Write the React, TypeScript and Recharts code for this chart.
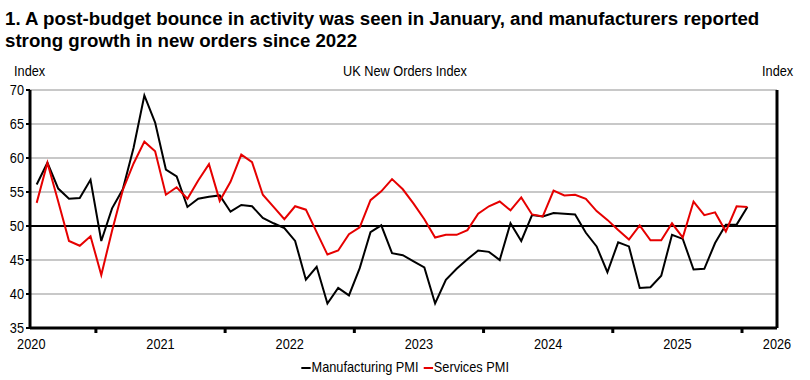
import { LineChart, Line, XAxis, YAxis, CartesianGrid, ReferenceLine } from "recharts";

const RED = "#e60000";
const FONT = "'Liberation Sans', Arial, sans-serif";
const SQUEEZE = 0.85; // the original uses a narrow face

// monthly values, Jan 2020 onwards
const manufacturing = [
  56.1, 59.3, 55.5, 54.0, 54.1, 56.8, 47.8, 52.6, 55.4, 61.5, 69.2, 65.2,
  58.3, 57.3, 52.8, 54.0, 54.3, 54.5, 52.1, 53.1, 52.9, 51.2, 50.4, 49.7,
  47.8, 42.1, 44.0, 38.6, 40.9, 39.8, 43.8, 49.1, 50.1, 46.0, 45.7, 44.8,
  43.9, 38.6, 42.1, 43.7, 45.1, 46.4, 46.2, 45.0, 50.4, 47.8, 51.6, 51.4,
  51.9, 51.8, 51.7, 49.0, 47.0, 43.2, 47.6, 47.0, 40.9, 41.0, 42.7, 48.7,
  48.1, 43.6, 43.7, 47.5, 50.2, 50.2, 52.8,
];
const services = [
  53.4, 59.3, 53.6, 47.8, 47.1, 48.5, 42.8, 49.3, 55.3, 59.2, 62.4, 61.0,
  54.6, 55.7, 54.0, 56.7, 59.1, 53.7, 56.5, 60.5, 59.4, 54.6, 52.8, 51.0,
  52.9, 52.4, 49.1, 45.8, 46.4, 48.8, 49.8, 53.8, 55.1, 56.9, 55.4, 53.3,
  51.0, 48.3, 48.7, 48.7, 49.4, 51.8, 52.9, 53.6, 52.3, 54.2, 51.7, 51.4,
  55.2, 54.5, 54.6, 54.0, 52.2, 50.9, 49.4, 48.0, 50.1, 47.9, 47.9, 50.4,
  48.3, 53.6, 51.6, 52.0, 49.2, 52.9, 52.8,
];
const years = ["2020", "2021", "2022", "2023", "2024", "2025", "2026"];
const yTicks = [35, 40, 45, 50, 55, 60, 65, 70];

const X_MIN = -0.62;
const X_MAX = 68.75;

const data = manufacturing.map((v, i) => ({ m: i, mfg: v, svc: services[i] }));

// year labels sit at the year boundary, small tick marks at mid-year
const labelPos = years.map((_, i) => (i < years.length - 1 ? i * 12 - 0.5 : X_MAX));
const markPos = years.slice(0, -1).map((_, i) => i * 12 + 5.5);

function XTick(props: any) {
  const { x, y, payload } = props;
  const li = labelPos.indexOf(payload.value);
  if (li >= 0) {
    return (
      <text transform={`translate(${x},${y + 21}) scale(${SQUEEZE},1)`} textAnchor="middle" fontSize={15} fill="#000" fontFamily={FONT}>
        {years[li]}
      </text>
    );
  }
  return <line x1={x} x2={x} y1={y} y2={y + 5} stroke="#000" strokeWidth={3} />;
}

function YTick(props: any) {
  const { x, y, payload, textAnchor } = props;
  return (
    <text transform={`translate(${x},${y}) scale(${SQUEEZE},1)`} dy="0.36em" textAnchor={textAnchor} fontSize={15} fill="#000" fontFamily={FONT}>
      {payload.value}
    </text>
  );
}

function Narrow({ children, origin = "left" }: { children: any; origin?: string }) {
  return (
    <span style={{ display: "inline-block", transform: `scaleX(${SQUEEZE})`, transformOrigin: origin, whiteSpace: "nowrap" }}>
      {children}
    </span>
  );
}

export default function App() {
  return (
    <div style={{ position: "absolute", left: 0, top: 0, width: 810, height: 380, background: "#fff", fontFamily: FONT, color: "#000" }}>
      <div style={{ position: "absolute", left: 5, top: 8, fontWeight: 700, fontSize: 18.7, lineHeight: "22px", whiteSpace: "nowrap" }}>
        1. A post-budget bounce in activity was seen in January, and manufacturers reported<br />
        strong growth in new orders since 2022
      </div>
      <div style={{ position: "absolute", left: 14, top: 62, fontSize: 15 }}>
        <Narrow>Index</Narrow>
      </div>
      <div style={{ position: "absolute", left: 0, width: 810, top: 62, fontSize: 15, textAlign: "center" }}>
        <Narrow origin="center">UK New Orders Index</Narrow>
      </div>
      <div style={{ position: "absolute", left: 762, top: 62, fontSize: 15 }}>
        <Narrow>Index</Narrow>
      </div>

      <div style={{ position: "absolute", left: 0, top: 0 }}>
        <LineChart width={810} height={380} data={data} margin={{ top: 90, right: 0, left: 0, bottom: 0 }}>
          <CartesianGrid vertical={false} stroke="#c8c8c8" strokeWidth={2} />
          <XAxis
            dataKey="m"
            type="number"
            domain={[X_MIN, X_MAX]}
            ticks={[...labelPos, ...markPos]}
            interval={0}
            height={52}
            tickSize={0}
            tickMargin={0}
            tickLine={false}
            tick={<XTick />}
            axisLine={{ stroke: "#000", strokeWidth: 3 }}
          />
          <YAxis
            domain={[35, 70]}
            ticks={yTicks}
            interval={0}
            width={30}
            tickSize={4}
            tickLine={{ stroke: "#000", strokeWidth: 2 }}
            axisLine={{ stroke: "#000", strokeWidth: 3 }}
            tick={<YTick />}
          />
          <YAxis
            yAxisId="r"
            orientation="right"
            domain={[35, 70]}
            ticks={yTicks}
            interval={0}
            width={33}
            tickSize={4}
            tickLine={{ stroke: "#000", strokeWidth: 2 }}
            axisLine={{ stroke: "#000", strokeWidth: 3 }}
            tick={<YTick />}
          />
          <ReferenceLine y={50} stroke="#000" strokeWidth={2} />
          <Line dataKey="mfg" stroke="#000" strokeWidth={2} dot={false} isAnimationActive={false} />
          <Line dataKey="svc" stroke={RED} strokeWidth={2} dot={false} isAnimationActive={false} />
        </LineChart>
      </div>

      <div style={{ position: "absolute", left: 0, width: 810, top: 358, textAlign: "center", fontSize: 15 }}>
        <Narrow origin="center">
          <span style={{ display: "inline-block", width: 11, height: 2, background: "#000", marginRight: 1, verticalAlign: "middle" }} />
          <span style={{ marginRight: 6 }}>Manufacturing PMI</span>
          <span style={{ display: "inline-block", width: 11, height: 2, background: RED, marginRight: 1, verticalAlign: "middle" }} />
          <span>Services PMI</span>
        </Narrow>
      </div>
    </div>
  );
}
